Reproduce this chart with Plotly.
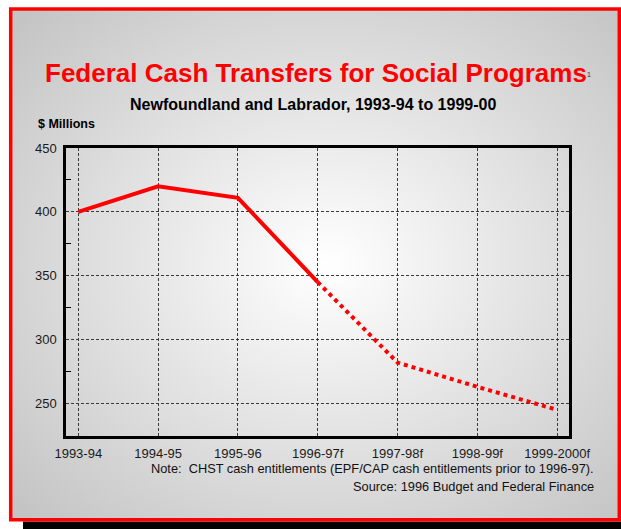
import base64
import plotly.graph_objects as go

# Fiscal years (f = forecast) and federal cash transfers, $ millions
years = ["1993-94", "1994-95", "1995-96", "1996-97f", "1997-98f", "1998-99f", "1999-2000f"]
transfers = [400, 420, 411, 345, 282, 263, 245]
first_forecast = 3  # the line turns dotted from 1996-97f onward

y_ticks = [250, 300, 350, 400, 450]

W, H = 621, 529
L, R, T, B = 66, 569, 148, 436  # plot area in pixels


def px(x):
    return (x - L) / (R - L)


def py(y):
    return (B - y) / (B - T)


fig = go.Figure()

fig.add_trace(go.Scatter(
    x=years[:first_forecast + 1], y=transfers[:first_forecast + 1],
    mode="lines", line=dict(color="#ff0000", width=4), hoverinfo="skip",
))
fig.add_trace(go.Scatter(
    x=years[first_forecast:], y=transfers[first_forecast:],
    mode="lines", line=dict(color="#ff0000", width=4, dash="4px,4px"), hoverinfo="skip",
))

# radial grey backdrop of the slide panel
svg = (
    '<svg xmlns="http://www.w3.org/2000/svg" width="600" height="500" preserveAspectRatio="none">'
    '<defs><radialGradient id="g" cx="0.52" cy="0.5" r="0.7">'
    '<stop offset="0" stop-color="#ffffff"/><stop offset="1" stop-color="#c4c4c4"/>'
    '</radialGradient></defs><rect width="600" height="500" fill="url(#g)"/></svg>'
)
src = "data:image/svg+xml;base64," + base64.b64encode(svg.encode()).decode()
fig.add_layout_image(dict(
    source=src, xref="paper", yref="paper",
    x=px(11), y=py(9), sizex=px(619) - px(11), sizey=py(9) - py(520),
    xanchor="left", yanchor="top", sizing="stretch", layer="below",
))

# drop shadow and red frame
fig.add_shape(type="rect", xref="paper", yref="paper",
              x0=px(23), x1=px(640), y0=py(521.5), y1=py(540),
              fillcolor="black", line=dict(width=0), layer="below")
fig.add_shape(type="rect", xref="paper", yref="paper",
              x0=px(10.7), x1=px(619.3), y0=py(8.9), y1=py(519.8),
              fillcolor="rgba(0,0,0,0)", line=dict(color="#ff0000", width=3.5), layer="below")

font = "Liberation Sans, Arial, sans-serif"


def label(text, x, y, size, color="#000000", bold=False, xanchor="center"):
    fig.add_annotation(
        text=f"<b>{text}</b>" if bold else text,
        xref="paper", yref="paper", x=px(x), y=py(y),
        xanchor=xanchor, yanchor="middle", showarrow=False,
        font=dict(family=font, size=size, color=color),
    )


label("Federal Cash Transfers for Social Programs", 315.5, 72.5, 26, "#ff0000", True)
label("1", 585, 74, 7, "#333333", xanchor="left")
label("Newfoundland and Labrador, 1993-94 to 1999-00", 313, 104.5, 16, bold=True)
label("$ Millions", 36, 124, 12.5, bold=True, xanchor="left")
label("Note:  CHST cash entitlements (EPF/CAP cash entitlements prior to 1996-97).",
      596, 468, 12.8, "#111111", xanchor="right")
label("Source: 1996 Budget and Federal Finance", 596, 486.5, 12.8, "#111111", xanchor="right")

grid = dict(gridcolor="#3a3a3a", gridwidth=1, griddash="3px,2px")

fig.update_layout(
    width=W, height=H,
    margin=dict(l=L, r=W - R, t=T, b=H - B, pad=0),
    paper_bgcolor="white", plot_bgcolor="rgba(0,0,0,0)",
    showlegend=False,
    font=dict(family=font, size=13, color="#1a1a1a"),
    xaxis=dict(
        type="category", categoryorder="array", categoryarray=years,
        range=[-0.154, 6.149], showgrid=True, **grid,
        showline=True, linecolor="black", linewidth=2.5, mirror=True,
        ticks="", tickfont=dict(size=13), ticklabelstandoff=4, zeroline=False, fixedrange=True,
    ),
    yaxis=dict(
        range=[224.5, 450], tickvals=y_ticks, showgrid=True, **grid,
        showline=True, linecolor="black", linewidth=2.5, mirror=True,
        ticks="", tickfont=dict(size=13), ticklabelstandoff=4, zeroline=False,
        minor=dict(ticks="inside", ticklen=5, tickcolor="black", tickwidth=1,
                   tickvals=[275, 325, 375, 425], showgrid=False),
        fixedrange=True,
    ),
)

fig.write_html("out.html")
